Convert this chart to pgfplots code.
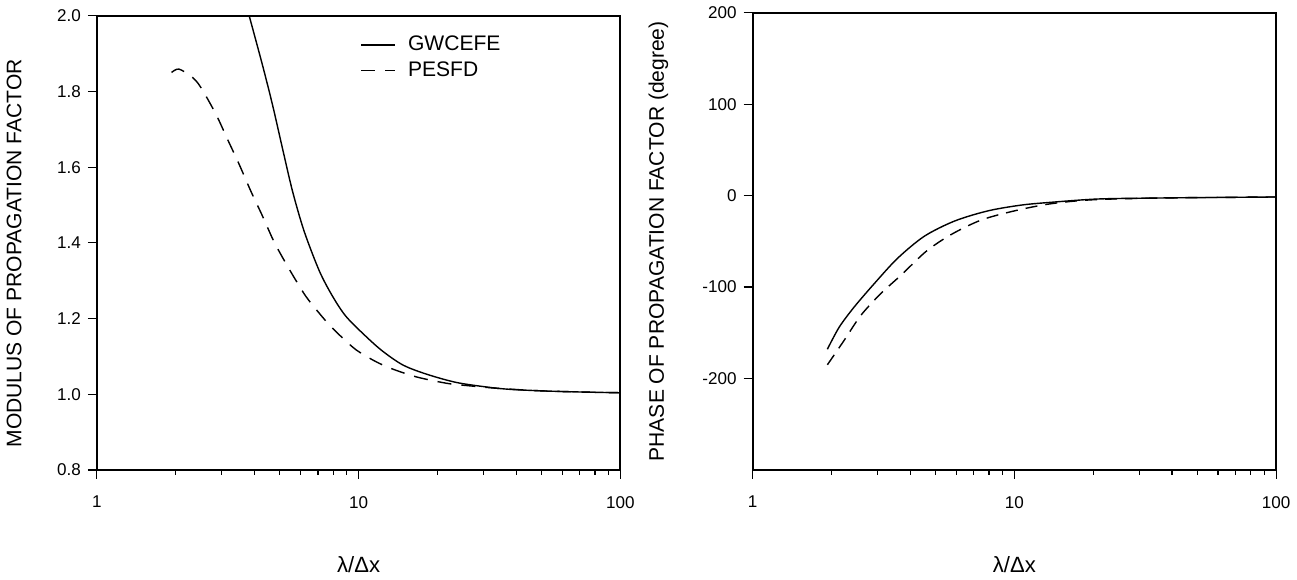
\documentclass[border=0pt]{standalone}
\usepackage{fontspec}
\setmainfont{Liberation Sans}
\usepackage{pgfplots}
\pgfplotsset{compat=1.18}
\pgfplotsset{
  myaxis/.style={
    scale only axis, width=261pt,
    xmin=1, xmax=100,
    xtick={1,10,100}, xticklabels={1,10,100},
    axis line style={line width=0.9pt},
    tick style={line width=0.6pt, black},
    tick align=outside, xtick pos=bottom, ytick pos=left,
    major tick length=4.5pt, minor tick length=2.5pt,
    tick label style={font=\fontsize{8.5}{10}\selectfont},
    xticklabel style={yshift=-5pt},
    xlabel={λ/Δx},
    xlabel style={font=\fontsize{11}{13}\selectfont, at={(axis description cs:0.5,0)}, anchor=center, yshift=-47pt},
    ylabel style={font=\fontsize{10.5}{12}\selectfont, anchor=center},
  }
}
\begin{document}
\begin{tikzpicture}
\begin{semilogxaxis}[myaxis, at={(0,0)}, anchor=south west, height=226.5pt,
  ymin=0.8, ymax=2.0,
  ytick={0.8,1.0,1.2,1.4,1.6,1.8,2.0},
  yticklabels={0.8,1.0,1.2,1.4,1.6,1.8,2.0},
  ylabel={MODULUS OF PROPAGATION FACTOR},
  ylabel style={at={(axis description cs:-0.158,0.477)}},
  legend style={draw=none, fill=none, at={(0.503,0.965)}, anchor=north west, inner sep=0pt,
    font=\fontsize{10.5}{12}\selectfont, /tikz/every odd column/.append style={column sep=4pt}},
  legend cell align=left,
  legend image code/.code={\draw[#1] (0pt,0pt) -- (17pt,0pt);},
]
\addplot[black, line width=0.7pt, smooth] coordinates {
(3.82,2.000) (4.30,1.868) (4.70,1.762) (5.13,1.647) (5.60,1.535) (6.20,1.430)
(7.09,1.325) (7.97,1.258) (8.97,1.205) (10.7,1.152) (12.4,1.113) (14.8,1.077)
(18.2,1.053) (23.7,1.031) (31.8,1.018) (37.9,1.013) (50,1.009) (70,1.006) (100,1.004)
};
\addlegendentry{GWCEFE}
\addplot[black, line width=0.7pt, smooth, dash pattern=on 7pt off 5pt] coordinates {
(1.93,1.850) (2.06,1.859) (2.32,1.837) (2.50,1.810) (2.85,1.740) (3.16,1.673)
(3.50,1.607) (3.88,1.536) (4.30,1.470) (4.70,1.410) (5.05,1.369) (5.69,1.307)
(6.30,1.258) (6.98,1.219) (7.74,1.183) (8.71,1.148) (9.80,1.117) (11.3,1.091)
(13.1,1.070) (16.6,1.046) (21.7,1.029) (25.9,1.023) (35,1.015) (50,1.009) (70,1.006) (100,1.004)
};
\addlegendentry{PESFD}
\end{semilogxaxis}
\begin{semilogxaxis}[myaxis, at={(327pt,0)}, anchor=south west, height=228pt,
  ymin=-300, ymax=200,
  ytick={-200,-100,0,100,200},
  yticklabels={-200,-100,0,100,200},
  ylabel={PHASE OF PROPAGATION FACTOR (degree)},
  ylabel style={at={(axis description cs:-0.18,0.5)}},
]
\addplot[black, line width=0.7pt, smooth] coordinates {
(1.93,-168) (2.14,-144) (2.44,-122) (2.92,-96) (3.58,-68.5) (4.53,-44.4)
(5.91,-27.8) (7.92,-16.7) (10.6,-10.4) (13.7,-7.4) (20.9,-3.7) (36.2,-2.6) (60,-2.0) (100,-1.5)
};
\addplot[black, line width=0.7pt, smooth, dash pattern=on 6pt off 4pt] coordinates {
(1.93,-185) (2.24,-158) (2.59,-131) (3.09,-107) (3.69,-87) (4.60,-61)
(5.73,-42.6) (7.47,-26.7) (10.0,-16.7) (13.7,-9) (20,-4.5) (36.2,-2.6) (60,-2.0) (100,-1.5)
};
\end{semilogxaxis}
\end{tikzpicture}
\end{document}
